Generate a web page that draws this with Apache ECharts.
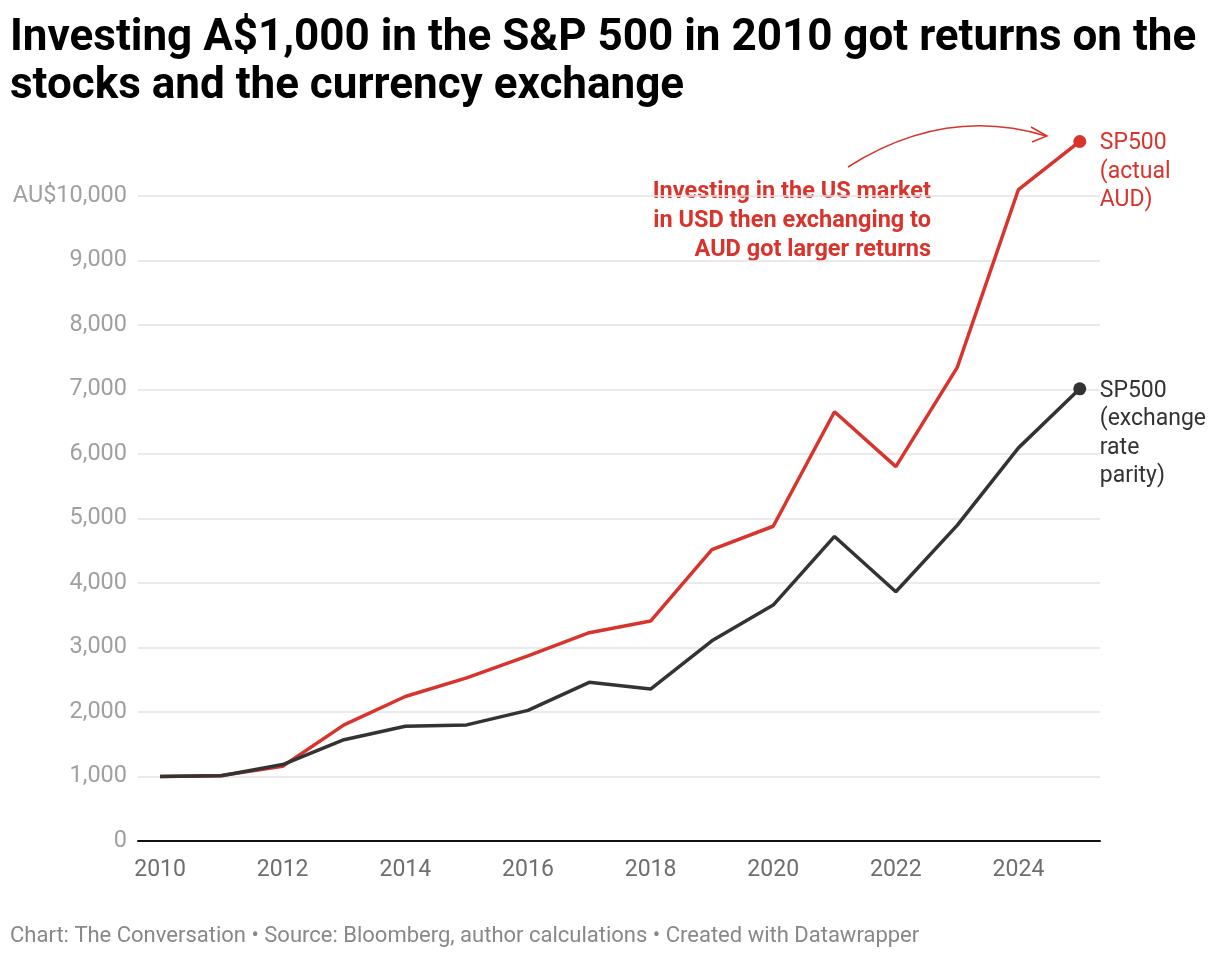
<!DOCTYPE html>
<html>
<head>
<meta charset="utf-8">
<script src="https://cdn.jsdelivr.net/npm/echarts@6/dist/echarts.min.js"></script>
<style>
html,body{margin:0;padding:0;background:#fff;}
#chart{width:1220px;height:958px;}
</style>
</head>
<body>
<div id="chart"></div>
<script>
const years = [2010,2011,2012,2013,2014,2015,2016,2017,2018,2019,2020,2021,2022,2023,2024,2025];
const actualAUD = [1000,1015,1160,1800,2240,2530,2870,3230,3410,4518,4880,6655,5805,7338,10100,10845];
const parity = [1000,1012,1185,1570,1780,1800,2025,2460,2355,3104,3658,4722,3865,4893,6095,7010];
const xTickLabels = [2010,2012,2014,2016,2018,2020,2022,2024];

const RED = '#d8342c';
const DARK = '#333333';
const FONT = 'Roboto, "Noto Sans", sans-serif';

const chart = echarts.init(document.getElementById('chart'), null, {renderer:'canvas'});
const lastIdx = years.length - 1;
function pts(arr){ return years.map((y,i)=>[y, arr[i]]); }
function symSize(v, p){ return p.dataIndex === lastIdx ? 13 : 0; }

chart.setOption({
  animation:false,
  backgroundColor:'#fff',
  textStyle:{fontFamily:FONT},
  grid:{left:138, right:120, top:196, bottom:117, containLabel:false},
  xAxis:{
    type:'value', min:2009.64, max:2025.33,
    axisLine:{show:true, lineStyle:{color:'#111', width:2}},
    axisTick:{show:false},
    splitLine:{show:false},
    axisLabel:{
      customValues:xTickLabels,
      formatter:v=>String(v),
      color:'#6e6e6e', fontSize:23, fontFamily:FONT, margin:18
    }
  },
  yAxis:{
    type:'value', min:0, max:10000, interval:1000,
    axisLine:{show:false}, axisTick:{show:false},
    splitLine:{lineStyle:{color:'#e3e3e3', width:1.5}},
    axisLabel:{
      color:'#a0a0a0', fontSize:23.5, fontFamily:FONT, margin:11,
      formatter:v=>{ const s = v.toLocaleString('en-US'); return v===10000 ? 'AU$'+s : s; }
    }
  },
  series:[
    {
      name:'SP500 (actual AUD)', type:'line', data:pts(actualAUD), clip:false,
      symbol:'circle', symbolSize:symSize, showAllSymbol:true,
      lineStyle:{color:RED, width:3.5}, itemStyle:{color:RED},
      emphasis:{disabled:true},
      endLabel:{show:true, formatter:'SP500\n(actual\nAUD)', color:RED, fontSize:23, fontFamily:FONT,
        lineHeight:28.5, align:'left', verticalAlign:'top', offset:[12,-12]}
    },
    {
      name:'SP500 (exchange rate parity)', type:'line', data:pts(parity), clip:false,
      symbol:'circle', symbolSize:symSize, showAllSymbol:true,
      lineStyle:{color:DARK, width:3.5}, itemStyle:{color:DARK},
      emphasis:{disabled:true},
      endLabel:{show:true, formatter:'SP500\n(exchange\nrate\nparity)', color:DARK, fontSize:23, fontFamily:FONT,
        lineHeight:28.5, align:'left', verticalAlign:'top', offset:[12,-12]}
    }
  ],
  graphic:[
    {type:'text', x:10, y:15, style:{
      text:'Investing A$1,000 in the S&P 500 in 2010 got returns on the\nstocks and the currency exchange',
      fill:'#000', font:'bold 44px '+FONT, lineHeight:48}},
    {type:'text', x:931, y:178, style:{
      text:'Investing in the US market\nin USD then exchanging to\nAUD got larger returns',
      fill:RED, font:'bold 23.5px '+FONT, lineHeight:29, textAlign:'right', align:'right'}},
    {type:'bezierCurve', shape:{x1:848, y1:167, cpx1:930, cpy1:115, cpx2:1000, cpy2:122, x2:1046, y2:136},
      style:{stroke:RED, lineWidth:1.5, fill:null}},
    {type:'polyline', shape:{points:[[1031,127],[1047,136],[1032,142]]},
      style:{stroke:RED, lineWidth:1.5, fill:null}},
    {type:'text', x:10, y:925, style:{
      text:'Chart: The Conversation \u2022 Source: Bloomberg, author calculations \u2022 Created with Datawrapper',
      fill:'#888', font:'22px '+FONT}}
  ]
});
</script>
</body>
</html>
